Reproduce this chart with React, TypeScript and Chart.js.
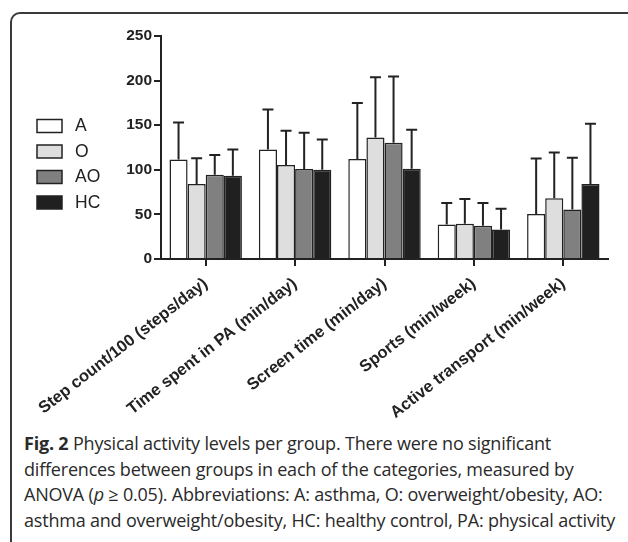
import React, { useEffect, useRef } from "react";
import { Chart, registerables } from "chart.js";

Chart.register(...registerables);

const categories = [
  "Step count/100 (steps/day)",
  "Time spent in PA (min/day)",
  "Screen time (min/day)",
  "Sports (min/week)",
  "Active transport (min/week)",
];
const groupLabels = ["A", "O", "AO", "HC"];
const meanA = [111.6, 122.8, 112, 38.8, 50.4];
const upperA = [153, 167.6, 175, 62.7, 112.7];
const meanO = [84, 105.3, 136.3, 39.6, 68];
const upperO = [113, 143.7, 203.8, 67.2, 119.5];
const meanAO = [94.4, 100.8, 130.3, 37.3, 55.6];
const upperAO = [116.5, 141.5, 204.6, 62.7, 113.5];
const meanHC = [93.3, 100, 101.1, 33.2, 84];
const upperHC = [122.8, 134, 144.8, 56.4, 151.5];
const yTicks = [0, 50, 100, 150, 200, 250];

const fills = ["#ffffff", "#dedede", "#808080", "#202020"];
const INK = "#222222";
const AXIS_FONT = "'Liberation Sans', Arial, sans-serif";

const errorBarPlugin = {
  id: "errorBars",
  afterDatasetsDraw(chart: any) {
    const ctx = chart.ctx;
    const yScale = chart.scales.y;
    chart.data.datasets.forEach((ds: any, di: number) => {
      const meta = chart.getDatasetMeta(di);
      meta.data.forEach((bar: any, i: number) => {
        const up = ds.upper[i];
        const yTop = yScale.getPixelForValue(up);
        ctx.save();
        ctx.strokeStyle = INK;
        ctx.lineWidth = 2;
        ctx.beginPath();
        ctx.moveTo(bar.x, bar.y);
        ctx.lineTo(bar.x, yTop);
        ctx.moveTo(bar.x - 5.5, yTop);
        ctx.lineTo(bar.x + 5.5, yTop);
        ctx.stroke();
        ctx.restore();
      });
    });
  },
};

const legendPlugin = {
  id: "sideLegend",
  afterDraw(chart: any) {
    const ctx = chart.ctx;
    ctx.save();
    chart.data.datasets.forEach((ds: any, i: number) => {
      const y = 119.5 + i * 25.5;
      ctx.fillStyle = ds.backgroundColor;
      ctx.fillRect(37, y, 25, 13);
      ctx.strokeStyle = INK;
      ctx.lineWidth = 1.5;
      ctx.strokeRect(37, y, 25, 13);
      ctx.fillStyle = INK;
      ctx.font = `17.5px ${AXIS_FONT}`;
      ctx.textBaseline = "middle";
      ctx.textAlign = "left";
      ctx.fillText(ds.label, 75, y + 7);
    });
    ctx.restore();
  },
};

export default function App() {
  const canvasRef = useRef<HTMLCanvasElement | null>(null);

  useEffect(() => {
    if (!canvasRef.current) return;
    const means = [meanA, meanO, meanAO, meanHC];
    const uppers = [upperA, upperO, upperAO, upperHC];
    const chart = new Chart(canvasRef.current, {
      type: "bar",
      data: {
        labels: categories,
        datasets: groupLabels.map((label, i) => ({
          label,
          data: means[i],
          upper: uppers[i],
          backgroundColor: fills[i],
          borderColor: INK,
          borderWidth: 1.5,
          borderSkipped: "bottom",
          categoryPercentage: 0.81,
          barPercentage: 1,
        })) as any,
      },
      options: {
        animation: false,
        responsive: false,
        maintainAspectRatio: false,
        events: [],
        layout: { padding: { left: 0, right: 20, top: 36, bottom: 0 } },
        plugins: {
          legend: { display: false },
          tooltip: { enabled: false },
        },
        scales: {
          x: {
            offset: true,
            grid: {
              offset: false,
              drawOnChartArea: false,
              drawTicks: true,
              tickLength: 7,
              color: INK,
              lineWidth: 2,
            },
            border: { display: true, color: INK, width: 2 },
            ticks: {
              color: INK,
              font: { family: AXIS_FONT, size: 16.5, weight: "bold" },
              minRotation: 38,
              maxRotation: 38,
              autoSkip: false,
              padding: 8,
            },
            afterFit(scale: any) {
              scale.height = 161;
            },
          },
          y: {
            min: 0,
            max: 250,
            afterBuildTicks(scale: any) {
              scale.ticks = yTicks.map((v) => ({ value: v }));
            },
            grid: {
              drawOnChartArea: false,
              drawTicks: true,
              tickLength: 7,
              color: INK,
              lineWidth: 2,
            },
            border: { display: true, color: INK, width: 2 },
            ticks: {
              color: INK,
              font: { family: AXIS_FONT, size: 15.5, weight: "bold" },
              padding: 2,
            },
            afterFit(scale: any) {
              scale.width = 161;
            },
          },
        },
      },
      plugins: [errorBarPlugin, legendPlugin],
    });
    return () => chart.destroy();
  }, []);

  return (
    <div
      style={{
        position: "absolute",
        left: 0,
        top: 0,
        width: 628,
        height: 542,
        overflow: "hidden",
        background: "#ffffff",
      }}
    >
      <div
        style={{
          position: "absolute",
          left: 10,
          top: 12,
          width: 660,
          height: 560,
          border: "2px solid #3a3a3a",
          borderRadius: 10,
          boxSizing: "border-box",
        }}
      />
      <canvas
        ref={canvasRef}
        width={628}
        height={420}
        style={{ position: "absolute", left: 0, top: 0, width: 628, height: 420 }}
      />
      <div
        style={{
          position: "absolute",
          left: 24,
          top: 431,
          fontFamily: "'Open Sans', sans-serif",
          fontSize: 18,
          lineHeight: "25.7px",
          color: "#2a2a2a",
          whiteSpace: "nowrap",
          letterSpacing: "-0.2px",
        }}
      >
        <div>
          <b>Fig. 2</b> Physical activity levels per group. There were no significant
        </div>
        <div>differences between groups in each of the categories, measured by</div>
        <div>
          ANOVA (<i>p</i> ≥ 0.05). Abbreviations: A: asthma, O: overweight/obesity, AO:
        </div>
        <div>asthma and overweight/obesity, HC: healthy control, PA: physical activity</div>
      </div>
    </div>
  );
}
